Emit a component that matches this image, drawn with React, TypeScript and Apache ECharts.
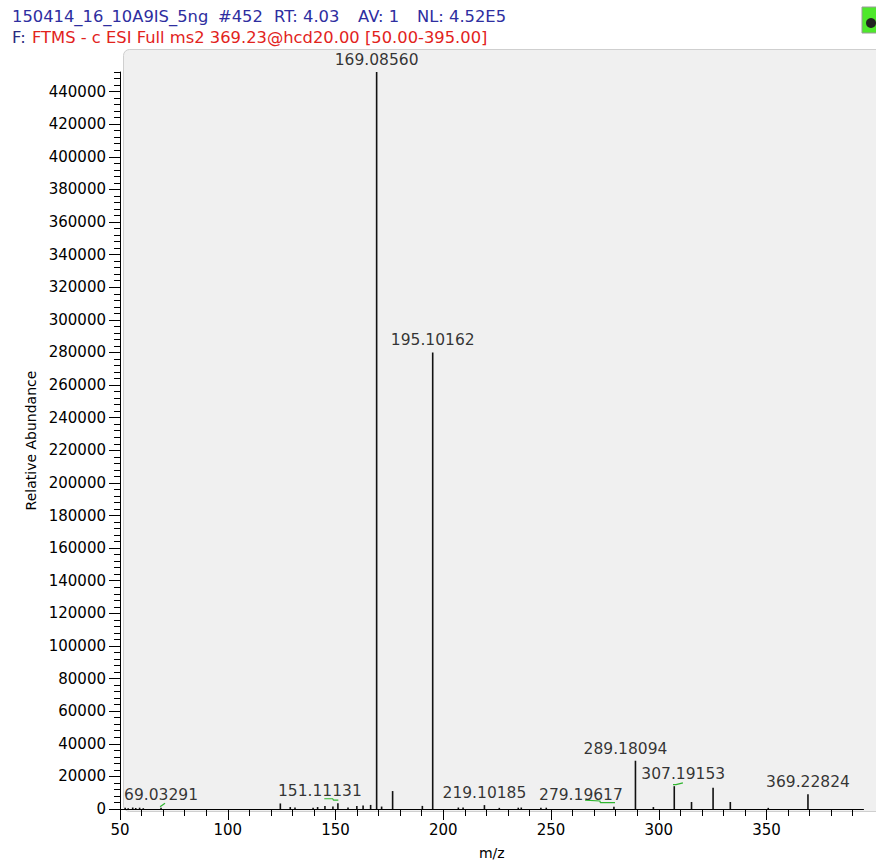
import React, { useEffect, useRef } from "react";
import * as echarts from "echarts";

// ---- data ----
const peakMz = [
  52.4, 53.8, 55.9, 57.3, 59.1, 60.8, 69.03291, 124.4, 129.0, 131.2, 139.6, 141.7, 145.1,
  148.8, 151.11131, 155.8, 159.9, 162.8, 166.3, 169.0856, 171.4, 176.5, 190.3, 195.10162,
  207.0, 209.2, 219.10185, 226.0, 234.8, 236.2, 245.3, 247.8, 279.19617, 289.18094, 297.5,
  307.19153, 315.2, 325.2, 333.2, 350.8, 369.22824,
];
const peakIntensity = [
  700, 500, 900, 600, 800, 500, 800, 3400, 1200, 900, 800, 1200, 1800,
  1500, 3600, 900, 1800, 2200, 2500, 452000, 1500, 11000, 1900, 280000,
  900, 900, 2400, 700, 800, 900, 800, 800, 1400, 29600, 1200,
  14000, 4300, 13000, 4300, 700, 9000,
];
const peakLabels = [
  "69.03291", "151.11131", "169.08560", "195.10162", "219.10185",
  "279.19617", "289.18094", "307.19153", "369.22824",
];
const xMajorTicks = [50, 100, 150, 200, 250, 300, 350];
const yMajorTicks = [
  0, 20000, 40000, 60000, 80000, 100000, 120000, 140000, 160000, 180000, 200000, 220000,
  240000, 260000, 280000, 300000, 320000, 340000, 360000, 380000, 400000, 420000, 440000,
];
// green label connector marks (m/z, abundance)
const connector69 = [[68.6, 1400], [70.9, 3500]];
const connector151 = [[144.8, 6300], [148.7, 6300], [149.0, 5500], [151.3, 5500]];
const connector279 = [[265.8, 5500], [272.7, 4900], [272.9, 3900], [279.7, 3900]];
const connector307 = [[306.6, 15000], [308.0, 15000], [311.2, 16000]];

const headerLine1 = ["150414_16_10A9IS_5ng", "#452", "RT: 4.03", "AV: 1", "NL: 4.52E5"];
const headerLine2Prefix = "F:";
const headerLine2 = "FTMS - c ESI Full ms2 369.23@hcd20.00 [50.00-395.00]";

// ---- style / layout ----
const FONT = "DejaVu Sans";
const X_MIN = 50;
const X_MAX = 395;
const Y_MAX = 452000;
const X_MINOR_STEP = 10;
const Y_MINOR_STEP = 4000;
const labelOffsets: Record<string, number> = {
  "151.11131": -18,
  "279.19617": -33,
  "289.18094": -10,
  "307.19153": 9,
};
const header1X = [12, 218, 274, 358, 417];

function minorTicks(min: number, max: number, step: number, majors: number[]) {
  const out: number[] = [];
  for (let v = min; v <= max + 1e-9; v += step) {
    const r = Math.round(v * 1000) / 1000;
    if (!majors.includes(r)) out.push(r);
  }
  return out;
}

export default function App() {
  const ref = useRef<HTMLDivElement>(null);

  useEffect(() => {
    if (!ref.current) return;
    const chart = echarts.init(ref.current, undefined, { renderer: "svg" });

    const xMinor = minorTicks(X_MIN, X_MAX, X_MINOR_STEP, xMajorTicks);
    const yMinor = minorTicks(0, Y_MAX, Y_MINOR_STEP, yMajorTicks);

    const stickData = peakMz.map((m, i) => [m, peakIntensity[i]]);
    const labelData = peakLabels.map((t) => {
      const mz = parseFloat(t);
      let idx = 0;
      let best = Infinity;
      peakMz.forEach((m, i) => {
        if (Math.abs(m - mz) < best) {
          best = Math.abs(m - mz);
          idx = i;
        }
      });
      return {
        name: t,
        value: [peakMz[idx], Math.max(peakIntensity[idx], 1200)],
        label: { offset: [labelOffsets[t] || 0, 0] },
      };
    });

    const connectorSeries = [connector69, connector151, connector279, connector307].map((d) => ({
      type: "line",
      xAxisIndex: 0,
      yAxisIndex: 0,
      data: d,
      symbol: "none",
      silent: true,
      lineStyle: { color: "#2fb52f", width: 1.2 },
      z: 3,
    }));

    const headerGraphics: any[] = headerLine1.map((t, i) => ({
      type: "text",
      x: header1X[i],
      y: 17,
      scaleX: 1.09,
      z: 10,
      style: { text: t, x: 0, y: 0, fill: "#2e2ea0", font: `15px '${FONT}'`, verticalAlign: "middle" },
    }));
    headerGraphics.push({
      type: "text",
      x: 12,
      y: 38,
      scaleX: 1.09,
      z: 10,
      style: { text: headerLine2Prefix, x: 0, y: 0, fill: "#2a2a80", font: `15px '${FONT}'`, verticalAlign: "middle" },
    });
    headerGraphics.push({
      type: "text",
      x: 32,
      y: 38,
      scaleX: 1.09,
      z: 10,
      style: { text: headerLine2, x: 0, y: 0, fill: "#e2231c", font: `15px '${FONT}'`, verticalAlign: "middle" },
    });

    const option: any = {
      animation: false,
      backgroundColor: "#ffffff",
      textStyle: { fontFamily: FONT },
      graphic: [
        {
          type: "rect",
          z: -10,
          shape: { x: 123.5, y: 49.5, width: 770, height: 762, r: [6, 0, 0, 6] },
          style: { fill: "#f0f0f0", stroke: "#cfcfcf", lineWidth: 1 },
        },
        {
          type: "rect",
          z: 10,
          shape: { x: 862, y: 7, width: 16, height: 26 },
          style: { fill: "#4ee82c", stroke: "#9a9a9a", lineWidth: 1 },
        },
        {
          type: "circle",
          z: 11,
          shape: { cx: 871, cy: 23, r: 5 },
          style: { fill: "#222222" },
        },
        ...headerGraphics,
      ],
      grid: { left: 120, right: 12.5, top: 72, bottom: 52 },
      xAxis: [
        {
          type: "value",
          min: X_MIN,
          max: X_MAX,
          position: "bottom",
          axisLine: { show: true, onZero: false, lineStyle: { color: "#000", width: 1 } },
          axisTick: { show: true, length: 11, customValues: xMajorTicks, lineStyle: { color: "#000" } },
          axisLabel: { customValues: xMajorTicks, margin: 13, color: "#000", fontSize: 15, fontFamily: FONT },
          splitLine: { show: false },
          name: "m/z",
          nameLocation: "middle",
          nameGap: 37,
          nameTextStyle: { color: "#000", fontSize: 14, fontFamily: FONT },
        },
        {
          type: "value",
          min: X_MIN,
          max: X_MAX,
          position: "bottom",
          axisLine: { show: false, onZero: false },
          axisTick: { show: true, length: 7, customValues: xMinor, lineStyle: { color: "#000" } },
          axisLabel: { show: false },
          splitLine: { show: false },
        },
      ],
      yAxis: [
        {
          type: "value",
          min: 0,
          max: Y_MAX,
          position: "left",
          axisLine: { show: true, onZero: false, lineStyle: { color: "#000", width: 1 } },
          axisTick: { show: true, length: 11, customValues: yMajorTicks, lineStyle: { color: "#000" } },
          axisLabel: {
            customValues: yMajorTicks,
            margin: 14,
            color: "#000",
            fontSize: 15,
            fontFamily: FONT,
            formatter: (v: number) => String(v),
          },
          splitLine: { show: false },
          name: "Relative Abundance",
          nameLocation: "middle",
          nameGap: 75,
          nameTextStyle: { color: "#000", fontSize: 14, fontFamily: FONT },
        },
        {
          type: "value",
          min: 0,
          max: Y_MAX,
          position: "left",
          axisLine: { show: false, onZero: false },
          axisTick: { show: true, length: 6, customValues: yMinor, lineStyle: { color: "#000" } },
          axisLabel: { show: false },
          splitLine: { show: false },
        },
      ],
      series: [
        {
          type: "custom",
          xAxisIndex: 0,
          yAxisIndex: 0,
          data: stickData,
          encode: { x: 0, y: 1 },
          silent: true,
          z: 2,
          renderItem: (params: any, api: any) => {
            const x = api.value(0);
            const y = api.value(1);
            const p0 = api.coord([x, 0]);
            const p1 = api.coord([x, y]);
            return {
              type: "line",
              shape: { x1: p0[0], y1: p0[1], x2: p1[0], y2: p1[1] },
              style: { stroke: "#111111", lineWidth: 1.6 },
            };
          },
        },
        {
          type: "scatter",
          xAxisIndex: 0,
          yAxisIndex: 0,
          data: labelData,
          symbolSize: 0,
          silent: true,
          z: 4,
          label: {
            show: true,
            position: "top",
            distance: 4,
            formatter: "{b}",
            color: "#000",
            fontSize: 15.5,
            fontFamily: FONT,
          },
        },
        ...connectorSeries,
      ],
    };

    chart.setOption(option);
    return () => chart.dispose();
  }, []);

  return (
    <div
      ref={ref}
      style={{ position: "absolute", left: 0, top: 0, width: 876, height: 865, background: "#fff" }}
    />
  );
}
